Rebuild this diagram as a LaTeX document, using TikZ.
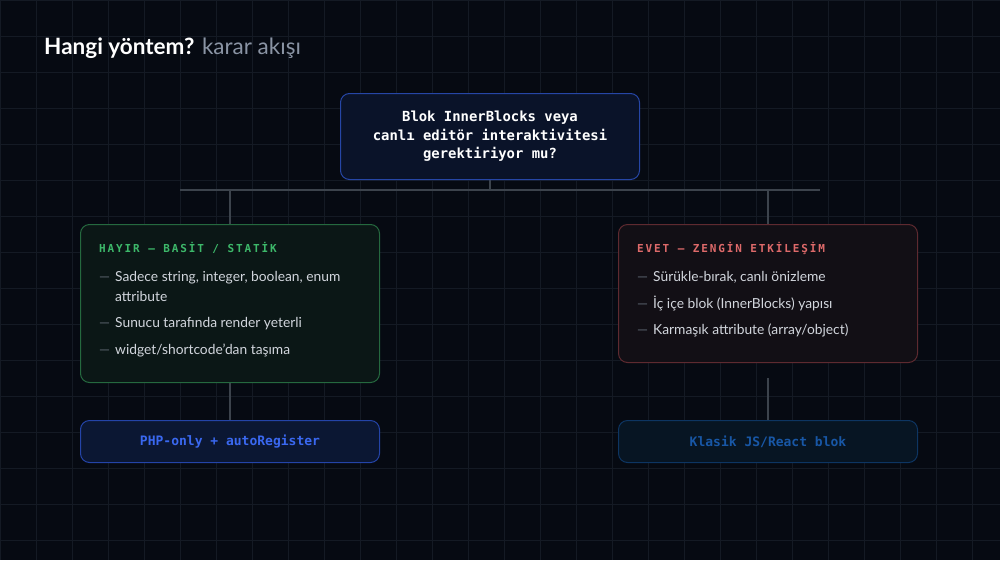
\documentclass[tikz,border=0pt]{standalone}
\usepackage{fontspec}
\setmainfont{Lato}
\newfontfamily\codefont{DejaVu Sans Mono}
\newfontfamily\trackfont[LetterSpace=17]{DejaVu Sans Mono}
\usetikzlibrary{positioning}
\definecolor{bgdark}{HTML}{060A12}
\definecolor{gridgray}{HTML}{141A24}
\definecolor{wiregray}{HTML}{3C434C}
\definecolor{subgray}{HTML}{8A94A4}
\definecolor{itemgray}{HTML}{D2D6DD}
\definecolor{dashgray}{HTML}{5F6772}
\definecolor{askfill}{HTML}{0A1329}
\definecolor{askline}{HTML}{2646A6}
\definecolor{nofill}{HTML}{0B1716}
\definecolor{noline}{HTML}{25693F}
\definecolor{notext}{HTML}{3DB86A}
\definecolor{yesfill}{HTML}{120F15}
\definecolor{yesline}{HTML}{5E2A30}
\definecolor{yestext}{HTML}{DE6A6A}
\definecolor{phpfill}{HTML}{0B1733}
\definecolor{phpline}{HTML}{2444A8}
\definecolor{phptext}{HTML}{3A68F0}
\definecolor{jsfill}{HTML}{071523}
\definecolor{jsline}{HTML}{0D3562}
\definecolor{jstext}{HTML}{1857A6}
\pgfdeclarelayer{bg}
\pgfdeclarelayer{wires}
\pgfsetlayers{bg,wires,main}
\tikzset{
  card/.style={rounded corners=9pt,line width=1pt,inner sep=0pt,anchor=north west,minimum width=299pt},
  wire/.style={draw=wiregray,line width=1.5pt},
  boxhead/.style={anchor=base west,inner sep=0pt,font=\trackfont\bfseries\fontsize{11}{13}\selectfont},
  itemdash/.style={anchor=base west,inner sep=0pt,text=dashgray,font=\fontsize{13.8}{16}\selectfont},
  itemtext/.style={anchor=base west,inner sep=0pt,text=itemgray,font=\fontsize{13.8}{16}\selectfont},
}
\begin{document}
\begin{tikzpicture}[x=1pt,y=-1pt,line cap=round,line join=round]
  \useasboundingbox (0,0) rectangle (1000,560);
  \begin{pgfonlayer}{bg}
    \fill [bgdark] (0,0) rectangle (1000,560);
    \foreach \gx in {0,36,...,1000} \draw [gridgray,line width=1pt] (\gx,0) -- (\gx,560);
    \foreach \gy in {0,36,...,560} \draw [gridgray,line width=1pt] (0,\gy) -- (1000,\gy);
  \end{pgfonlayer}

  % heading
  \node [anchor=base west,inner sep=0pt,text=white,font=\fontsize{22.5}{26}\selectfont] (head) at (44,54.5)
    {\textbf{Hangi yöntem?} \textcolor{subgray}{karar akışı}};

  % question
  \node [card,draw=askline,fill=askfill,minimum height=86pt,text=white,align=center,
         font=\codefont\bfseries\fontsize{13.9}{18.5}\selectfont] (ask) at (340,93)
    {Blok InnerBlocks veya\\canlı editör interaktivitesi\\gerektiriyor mu?};

  % answers
  \node [card,draw=noline,fill=nofill,minimum height=158pt] (noBox) at (80,224) {};
  \node [card,draw=yesline,fill=yesfill,minimum height=138pt] (yesBox) at (618,224) {};

  \node [boxhead,text=notext] (noHead) at (99,252) {HAYIR — BASİT / STATİK};
  \node [itemdash] (noDashA) at (99,281.5) {—};
  \node [itemtext] (noItemA) at (115,281.5) {Sadece string, integer, boolean, enum};
  \node [itemtext] (noItemB) at (115,301.5) {attribute};
  \node [itemdash] (noDashC) at (99,327.5) {—};
  \node [itemtext] (noItemC) at (115,327.5) {Sunucu tarafında render yeterli};
  \node [itemdash] (noDashD) at (99,354) {—};
  \node [itemtext] (noItemD) at (115,354) {widget/shortcode’dan taşıma};

  \node [boxhead,text=yestext] (yesHead) at (637,252) {EVET — ZENGİN ETKİLEŞİM};
  \node [itemdash] (yesDashA) at (637,281) {—};
  \node [itemtext] (yesItemA) at (653,281) {Sürükle-bırak, canlı önizleme};
  \node [itemdash] (yesDashB) at (637,308) {—};
  \node [itemtext] (yesItemB) at (653,308) {İç içe blok (InnerBlocks) yapısı};
  \node [itemdash] (yesDashC) at (637,334.5) {—};
  \node [itemtext] (yesItemC) at (653,334.5) {Karmaşık attribute (array/object)};

  % results
  \node [card,draw=phpline,fill=phpfill,minimum height=42pt,text=phptext,
         font=\codefont\bfseries\fontsize{13}{16}\selectfont] (phpBox) at (80,420) {PHP-only + autoRegister};
  \node [card,draw=jsline,fill=jsfill,minimum height=42pt,text=jstext,
         font=\codefont\bfseries\fontsize{13}{16}\selectfont] (jsBox) at (618,420) {Klasik JS/React blok};

  % connectors
  \coordinate (busL) at (180,190);
  \coordinate (busR) at (820,190);
  \coordinate (stem) at (0,378);
  \begin{pgfonlayer}{wires}
    \draw [wire] (busL) -- (busR);
    \draw [wire] (ask.south) -- (ask.south |- busL);
    \draw [wire] (noBox.north |- busL) -- (noBox.north);
    \draw [wire] (yesBox.north |- busL) -- (yesBox.north);
    \draw [wire] (phpBox.north |- stem) -- (phpBox.north);
    \draw [wire] (jsBox.north |- stem) -- (jsBox.north);
  \end{pgfonlayer}
\end{tikzpicture}
\end{document}
